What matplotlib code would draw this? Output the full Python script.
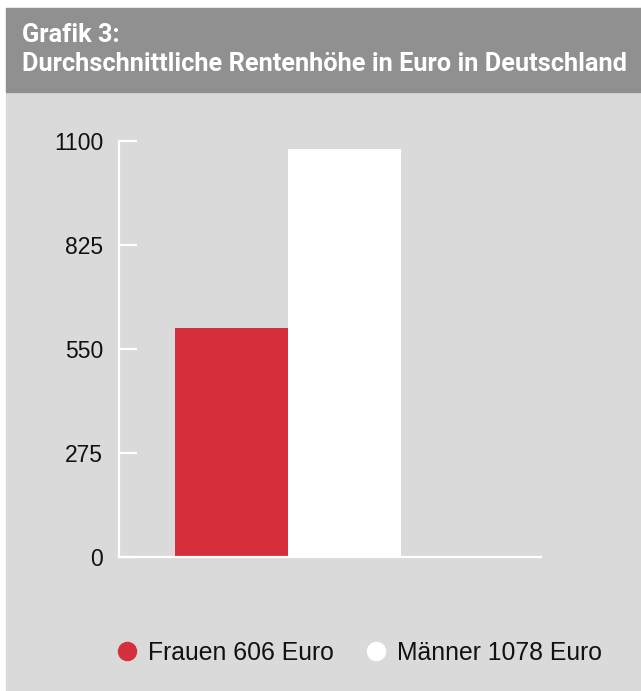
import matplotlib
matplotlib.use("Agg")
import matplotlib.pyplot as plt
from matplotlib.patches import Rectangle
from matplotlib.lines import Line2D

# data
categories = ["Frauen", "Männer"]
values = [606, 1078]
bar_colors = ["#d62f3c", "#ffffff"]
yticks = [0, 275, 550, 825, 1100]

W, H = 641, 691
plt.rcParams['font.family'] = ['Liberation Sans', 'DejaVu Sans']

fig = plt.figure(figsize=(W / 100, H / 100), dpi=100)
fig.patch.set_facecolor("white")

def px(x0, y0, x1, y1):
    # rectangle in pixel coords (origin top-left) -> figure fraction
    return (x0 / W, 1 - y1 / H), (x1 - x0) / W, (y1 - y0) / H

xy, w, h = px(6, 92, W, H)
fig.patches.append(Rectangle(xy, w, h, transform=fig.transFigure, color="#dadada", zorder=-2))
xy, w, h = px(6, 8, W, 92)
fig.patches.append(Rectangle(xy, w, h, transform=fig.transFigure, color="#8f908f", zorder=-2))

title_font = ['Roboto', 'DejaVu Sans']
fig.text(22 / W, 1 - 42 / H, "Grafik 3:", color="white", fontsize=18.3,
         fontweight="bold", va="baseline", ha="left", family=title_font)
fig.text(22 / W, 1 - 71 / H, "Durchschnittliche Rentenhöhe in Euro in Deutschland",
         color="white", fontsize=18.3, fontweight="bold", va="baseline", ha="left",
         family=title_font)

ax = fig.add_axes([119 / W, 134 / H, (541 - 119) / W, 416 / H])
ax.set_facecolor("none")
ax.bar(range(len(values)), values, width=1.0, color=bar_colors, zorder=2)
ax.set_xlim(-1, 2.735)
ax.set_ylim(0, 1100)
ax.set_yticks(yticks)
ax.set_xticks([])
for s in ["top", "right"]:
    ax.spines[s].set_visible(False)
for s in ["left", "bottom"]:
    ax.spines[s].set_color("white")
    ax.spines[s].set_linewidth(1.6)
ax.tick_params(axis="y", direction="in", length=13, width=1.6, color="white",
               labelsize=16.5, pad=11.5, labelcolor="#111111")

handles = [Line2D([], [], marker="o", linestyle="none", markersize=13,
                  markerfacecolor=c, markeredgecolor=c) for c in bar_colors]
labels = [f"{c} {v} Euro" for c, v in zip(categories, values)]
fig.legend(handles, labels, loc="center", bbox_to_anchor=(358 / W, 1 - 653 / H),
           ncol=2, frameon=False, fontsize=17.8, handletextpad=0.35,
           columnspacing=1.2, handlelength=1.0, labelcolor="#111111")

fig.savefig("out.png", dpi=100, facecolor=fig.get_facecolor())
